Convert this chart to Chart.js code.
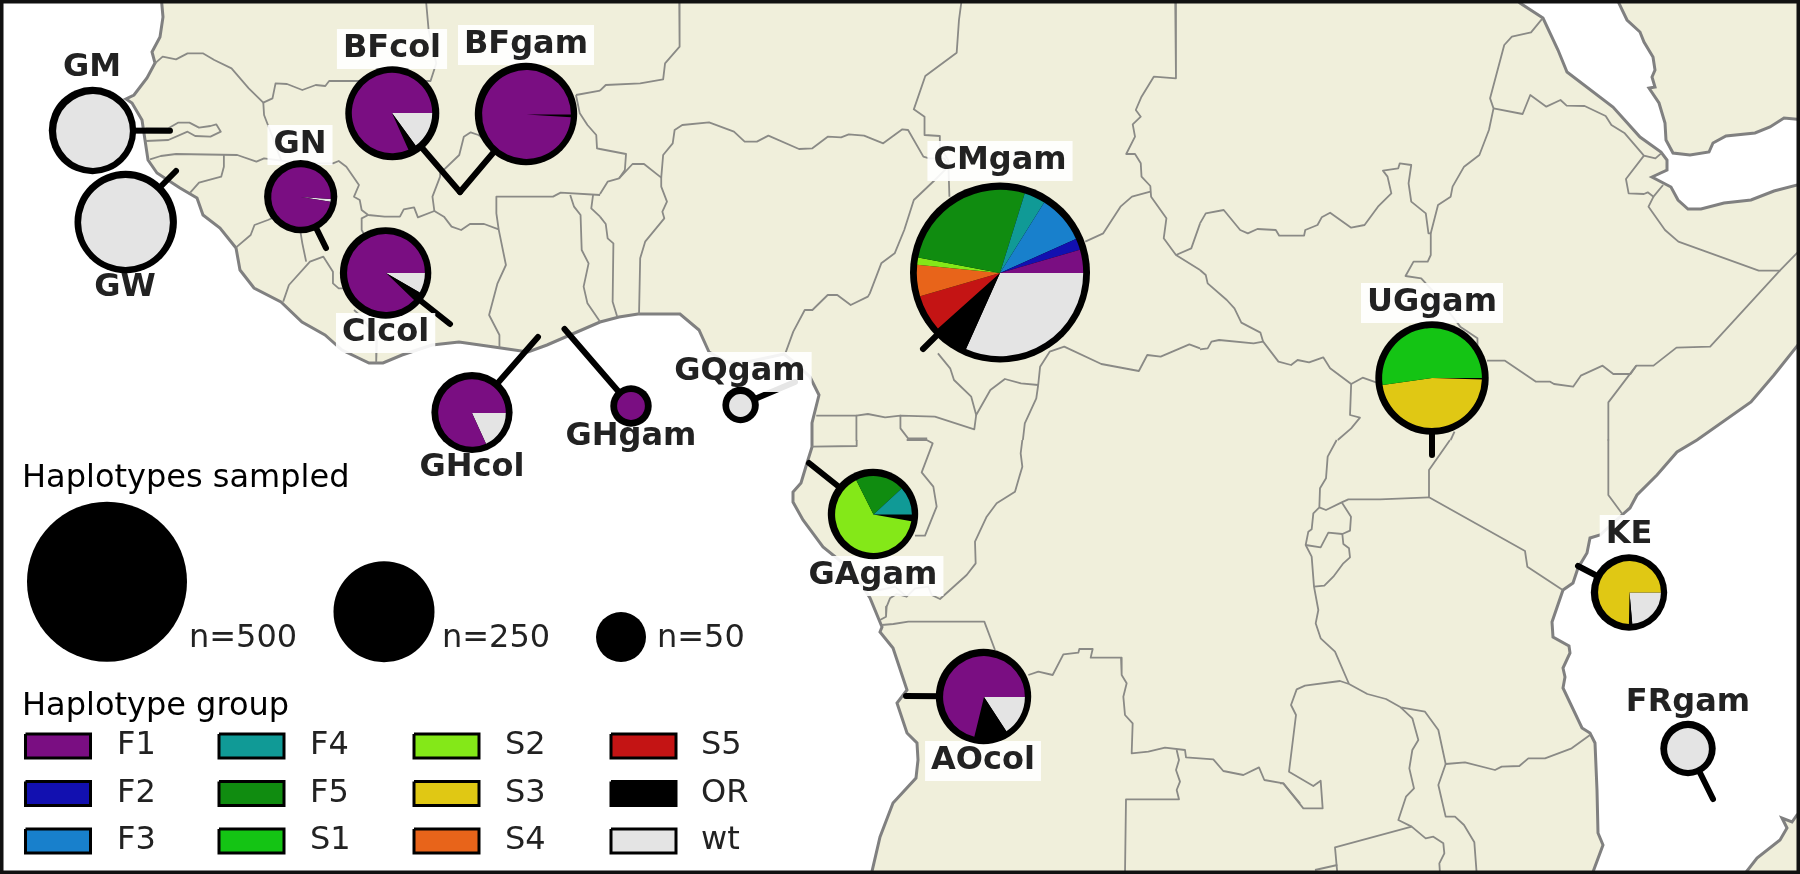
<!DOCTYPE html>
<html>
<head>
<meta charset="utf-8">
<title>Haplotype groups by population</title>
<script src="https://cdn.jsdelivr.net/npm/chart.js@4/dist/chart.umd.min.js"></script>
<style>
  html, body { margin: 0; padding: 0; background: #fff; }
  #stage { position: relative; width: 1800px; height: 874px; overflow: hidden; }
  #stage canvas { position: absolute; left: 0; top: 0; pointer-events: none; }
</style>
</head>
<body>
<div id="stage"><canvas id="map" width="1800" height="874"></canvas></div>
<script>
// haplotype groups, in the order the slices run
const groupNames = ['F1', 'F2', 'F3', 'F4', 'F5', 'S1', 'S2', 'S3', 'S4', 'S5', 'OR', 'wt'];
const groupColors = ['#7a0e82', '#1210b0', '#1880cc', '#109a96', '#108c10', '#14c414',
                     '#84e818', '#e0c814', '#e8641a', '#c41414', '#000000', '#e4e4e4'];

// share of each group per population (%)
const sharesGM    = [0, 0, 0, 0, 0, 0, 0, 0, 0, 0, 0, 100];
const sharesGW    = [0, 0, 0, 0, 0, 0, 0, 0, 0, 0, 0, 100];
const sharesGN    = [98.6, 0, 0, 0, 0, 0, 0, 0, 0, 0, 0, 1.4];
const sharesBFcol = [81.7, 0, 0, 0, 0, 0, 0, 0, 0, 0, 3.3, 15];
const sharesBFgam = [99, 0, 0, 0, 0, 0, 0, 0, 0, 0, 1, 0];
const sharesCIcol = [87.8, 0, 0, 0, 0, 0, 0, 0, 0, 0, 3.9, 8.3];
const sharesGHcol = [81.8, 0, 0, 0, 0, 0, 0, 0, 0, 0, 0, 18.2];
const sharesGHgam = [100, 0, 0, 0, 0, 0, 0, 0, 0, 0, 0, 0];
const sharesGQgam = [0, 0, 0, 0, 0, 0, 0, 0, 0, 0, 0, 100];
const sharesCMgam = [4.5, 2.2, 9.4, 4.1, 26.8, 0, 1.4, 0, 6.1, 7.1, 6.7, 31.7];
const sharesUGgam = [0, 0, 0, 0, 0, 52.2, 0, 47.3, 0, 0, 0.5, 0];
const sharesGAgam = [0, 0, 0, 11.9, 20.5, 0, 64.8, 0, 0, 0, 2.8, 0];
const sharesAOcol = [71.2, 0, 0, 0, 0, 0, 0, 0, 0, 0, 13, 15.8];
const sharesKE    = [0, 0, 0, 0, 0, 0, 0, 74.7, 0, 0, 1.7, 23.6];
const sharesFRgam = [0, 0, 0, 0, 0, 0, 0, 0, 0, 0, 0, 100];

const siteNames  = ['GM', 'GW', 'GN', 'BFcol', 'BFgam', 'CIcol', 'GHcol', 'GHgam', 'GQgam', 'CMgam', 'UGgam', 'GAgam', 'AOcol', 'KE', 'FRgam'];
const siteShares = [sharesGM, sharesGW, sharesGN, sharesBFcol, sharesBFgam, sharesCIcol, sharesGHcol, sharesGHgam, sharesGQgam, sharesCMgam, sharesUGgam, sharesGAgam, sharesAOcol, sharesKE, sharesFRgam];
const siteX      = [92.5, 125.7, 300.7, 392.3, 526, 385.6, 472, 631, 740.6, 1000, 1432, 873, 983.5, 1629, 1688];
const siteY      = [130.5, 222, 196.7, 113.3, 114, 273, 412.5, 406, 405, 272.5, 378, 514, 696.5, 592.5, 748.5];
const siteRadius = [43.7, 51.2, 36.6, 47, 51.2, 45.7, 40.6, 20.7, 18.2, 90, 56.7, 45.2, 47.7, 38.2, 27.7];
// GN's thin wt slice sits a few degrees below 3 o'clock
const siteTurn   = [0, 0, 4, 0, 0, 0, 0, 0, 0, 0, 0, 0, 0, 0, 0];
const labelX     = [92, 125, 300, 392, 526, 385.6, 472, 631, 740, 1000, 1432, 873, 983, 1629, 1688];
const labelY     = [67.5, 288, 145, 49, 45, 333, 468, 437, 372, 161, 303, 576, 761, 535, 703];

// where each site's leader ends on the map
const leaderEndX = [170, 176, 326, 460, 460, 450, 538, 564.5, 795, 923, 1432, 809, 906, 1578, 1713];
const leaderEndY = [130.7, 171, 248, 192, 192, 324, 337, 329, 382, 349, 455, 463, 696, 566, 799];

// size key
const sizeKeyLabels = ['n=500', 'n=250', 'n=50'];
const sizeKeyX      = [107, 384, 621];
const sizeKeyY      = [581.7, 611.7, 637];
const sizeKeyRadius = [80, 50.5, 25];
const sizeKeyTextX  = [189, 442, 657];

// coast outlines, full size pixels
const africaCoast = [[161,-5],[163,17],[160,37],[152,52],[155,63],[147,78],[134,95],[126,99],[132,103],[142,120],[145,140],[148,160],[157,173],[180,188],[197,198],[203,215],[220,228],[236,248],[240,270],[254,288],[281,302],[302,322],[325,335],[342,350],[369,363],[383,363],[402,355],[432,345],[459,342],[494,347],[528,352],[547,345],[600,322],[619,317],[638,314],[680,314],[699,330],[709,352],[726,362],[747,362],[784,354],[795,363],[810,377],[819,395],[812,423],[812,447],[807,463],[801,483],[793,492],[793,502],[803,520],[823,547],[843,563],[863,587],[870,598],[882,627],[880,632],[893,648],[907,690],[897,703],[907,733],[917,743],[918,760],[916,778],[893,803],[880,837],[870,880],[1590,880],[1603,845],[1598,833],[1597,790],[1595,743],[1590,733],[1582,728],[1563,688],[1565,677],[1563,668],[1570,653],[1569,646],[1553,637],[1552,622],[1563,590],[1573,583],[1578,568],[1587,553],[1590,538],[1600,535],[1622,515],[1630,508],[1637,495],[1657,475],[1677,452],[1697,440],[1751,402],[1774,375],[1805,336],[1805,183],[1774,191],[1751,200],[1724,203],[1701,209],[1688,209],[1678,200],[1671,187],[1652,177],[1667,170],[1667,160],[1661,152],[1640,137],[1613,107],[1567,72],[1558,50],[1543,18],[1520,3],[1512,-5]];
const arabiaCoast = [[1615,-5],[1627,20],[1640,32],[1644,42],[1653,57],[1655,70],[1652,77],[1655,87],[1649,88],[1659,103],[1665,123],[1666,140],[1673,153],[1690,155],[1709,152],[1713,143],[1726,136],[1755,133],[1770,127],[1784,118],[1805,120],[1805,-5]];
const madagascarCoast = [[1740,880],[1757,858],[1780,840],[1787,828],[1782,818],[1792,822],[1797,815],[1805,808],[1805,880]];

// inland borders, in the pixel grid of the crop they were traced on
const bordersWest = [
  [[405,190],[425,170],[460,178],[490,160],[530,160],[560,180],[605,205],[650,265],[688,308],[712,295],[720,250],[750,252],[790,270],[825,255],[850,258],[860,243],[1125,243],[1140,190],[1120,90],[1113,0]],
  [[688,308],[690,345],[705,390],[735,482]],
  [[380,385],[440,385],[465,368],[495,368],[520,383],[550,378],[565,373],[577,395],[550,410],[510,408],[490,395],[440,420],[380,423]],
  [[392,478],[420,468],[460,462],[620,465],[670,485],[690,475],[735,482],[800,490],[870,490],[885,483],[905,500],[938,555],[925,590],[940,600],[945,630],[962,645],[1005,650],[1045,650],[1055,628],[1082,622],[1092,652],[1135,633],[1160,650],[1180,680],[1205,690],[1228,672],[1265,672],[1303,688]],
  [[585,465],[585,500],[578,530],[520,548],[497,578]],
  [[962,645],[945,655],[945,690],[960,720]],
  [[1135,633],[1130,590],[1150,530],[1150,520],[1200,465],[1212,410],[1230,397],[1250,405],[1270,420]],
  [[1568,585],[1465,578],[1445,590],[1297,590],[1297,640],[1303,688],[1322,795],[1300,850],[1278,945],[1305,1005],[1305,1040]],
  [[1490,585],[1500,620],[1517,645],[1520,750],[1538,790],[1525,860],[1535,910],[1568,965]],
  [[1550,582],[1545,625],[1568,650]],
  [[617,742],[655,705],[665,675],[700,660],[720,650]],
  [[740,905],[755,855],[810,785],[845,770],[870,815],[870,850],[885,865],[900,865]],
  [[800,785],[790,730],[785,695]],
  [[925,930],[945,950],[985,1020],[983,1085]],
  [[1505,285],[1568,272]],
  [[1505,285],[1515,340],[1535,375],[1558,405],[1560,445],[1568,447]]
];
const bordersCentre = [
  [[207,0],[208,140],[170,190],[165,238],[105,250],[15,255],[0,272]],
  [[0,447],[68,462],[65,510],[50,535],[20,545],[0,582]],
  [[50,535],[85,492],[115,492],[160,533],[165,465],[190,430],[195,390],[215,375],[285,367],[350,395],[378,425],[410,425],[440,407],[520,447],[555,445],[595,410],[630,412],[650,403],[690,407],[740,430],[790,388],[805,390],[845,470],[860,475]],
  [[945,0],[938,60],[932,158],[850,228],[820,328],[848,350],[848,405],[888,408],[888,440],[910,480],[913,590]],
  [[860,475],[900,475],[910,500],[875,540],[820,600],[795,690],[770,760],[735,790],[705,880],[700,890],[655,915],[620,885],[595,885],[555,930],[535,930],[505,995],[485,1058]],
  [[160,533],[160,560],[175,605],[163,635],[168,655],[118,725],[105,775],[102,943]],
  [[0,650],[15,672],[20,715],[35,730],[33,905],[45,950]],
  [[565,1247],[670,1247],[700,1242],[745,1252],[785,1247],[875,1250],[978,1288],[983,1245]],
  [[670,1247],[670,1320]],
  [[785,1247],[785,1285],[805,1315],[855,1315]],
  [[883,1060],[915,1105],[925,1140],[970,1190],[983,1245],[1020,1170],[1058,1137],[1100,1150],[1145,1155],[1150,1100],[1175,1055],[1213,1040],[1310,1092],[1408,1113],[1430,1065],[1465,1070],[1540,1033],[1568,1045]],
  [[1145,1155],[1140,1195],[1110,1270],[1105,1320]],
  [[1268,725],[1315,700],[1360,620],[1390,590],[1438,575]],
  [[1503,0],[1505,235],[1447,230],[1415,290],[1400,330],[1413,350],[1392,373],[1398,410],[1375,462],[1398,462],[1413,490],[1415,530],[1438,558],[1440,590],[1480,655],[1473,715],[1505,765],[1568,810]],
  [[1505,765],[1545,745],[1568,670]]
];
const bordersEast = [
  [[0,1048],[20,1045],[30,1025],[50,1020],[140,1030],[165,1025],[205,1085],[238,1095],[255,1080],[285,1087],[322,1072],[340,1105],[395,1152],[425,1133],[460,1147]],
  [[395,1152],[392,1245],[418,1253],[395,1285],[360,1320]],
  [[0,810],[15,825],[20,850],[70,900],[90,925],[108,968],[158,998],[165,1025]],
  [[0,670],[15,640],[62,630],[105,690],[125,700],[150,687],[198,690],[207,707],[272,707],[275,690],[307,675],[318,652],[340,638],[395,683],[430,675],[465,620],[500,580],[490,530],[478,512],[518,505],[522,490],[552,495],[545,550],[552,605],[590,640],[597,700],[603,700],[603,765],[595,785],[558,785],[537,828],[578,835],[610,875],[680,980],[725,1015],[725,1060]],
  [[603,700],[622,615],[655,590],[660,560],[690,500],[730,465],[755,390],[767,325],[758,295],[795,135],[815,110],[865,97],[895,55]],
  [[767,325],[843,342],[863,285],[905,320],[942,300],[958,317],[1005,318],[1060,348],[1075,375],[1110,400],[1160,467],[1190,475],[1205,460]],
  [[1160,467],[1113,537],[1120,580],[1160,582],[1170,577],[1185,590],[1210,555]],
  [[1185,590],[1172,620],[1215,690],[1250,725],[1460,812],[1515,812],[1568,750]],
  [[1515,812],[1333,1040],[1245,1043],[1185,1097],[1140,1097],[1125,1122],[1080,1122],[1052,1097],[995,1127],[975,1160],[925,1152],[915,1145],[878,1145],[797,1082],[750,1082]],
  [[1140,1097],[1067,1207],[1067,1320]],
  [[665,1295],[655,1320]]
];
const bordersSouthCentre = [
  [[95,20],[230,18],[230,0]],
  [[380,0],[440,0],[458,10],[425,97],[460,140],[470,200],[435,287],[405,287]],
  [[250,445],[300,450],[345,440],[380,470],[405,445],[445,440],[455,465],[480,477],[510,450],[560,405],[587,370],[585,305],[620,230],[650,190],[705,155],[718,110],[727,80],[722,40],[727,0]],
  [[380,470],[350,462],[330,475],[320,500],[318,530],[300,540]],
  [[305,555],[340,552],[385,545],[520,545],[613,545],[645,630]],
  [[745,705],[775,695],[818,705],[850,643],[895,638],[898,627],[938,627],[932,653],[1023,653],[1025,705],[1040,730],[1030,770],[1035,825],[1058,850],[1055,940],[1105,935],[1155,923],[1215,930],[1218,952],[1300,958],[1330,993],[1390,1005],[1437,982],[1453,1020],[1510,1030],[1560,1090]],
  [[1190,930],[1197,960],[1188,990],[1200,1025],[1190,1050],[1197,1078],[1038,1078],[1035,1300]]
];
const bordersSouthEast = [
  [[985,0],[985,165],[1027,222]],
  [[510,0],[447,90],[447,172],[735,333],[742,380],[848,450]],
  [[447,172],[300,178],[205,178],[185,187],[138,210],[118,202]],
  [[170,0],[143,50],[138,115],[120,145],[118,202],[100,220],[95,268],[85,275],[77,315],[122,322],[145,278],[187,282],[210,272],[213,230],[185,187]],
  [[77,315],[95,350],[102,440],[115,510],[107,550],[122,595],[165,635],[207,732]],
  [[102,440],[133,437],[160,410],[190,370],[210,352],[207,325],[190,312],[187,282]],
  [[207,732],[180,723],[75,737],[50,748],[33,795],[48,825],[27,995],[100,1038],[122,1022],[128,1105],[70,1105],[10,1030],[0,1030]],
  [[207,732],[262,762],[318,777],[362,802],[435,815],[475,870],[497,972],[555,967],[645,990],[665,980],[718,978],[745,955],[795,955],[875,925],[930,885]],
  [[497,972],[475,1035],[497,1130],[525,1130],[552,1155],[583,1207],[590,1300]],
  [[362,802],[397,835],[415,900],[397,930],[388,985],[402,1045],[378,1070],[355,1140],[395,1160],[437,1195],[460,1190],[490,1210],[493,1240],[478,1270],[480,1300]],
  [[395,1160],[165,1222],[172,1300]],
  [[172,1275],[105,1290]]
];

const LAND = '#f0efdb';
const COAST = '#808080';
const BORDER = '#8a8a86';
const RING = 6.8;
const FONT = '"DejaVu Sans"';

const toPoints = (line) => line.map(p => ({ x: p[0], y: p[1] }));
const cropped = (lines, left, top, sx) => lines.map(line => line.map(p => [left + p[0] / sx, top + p[1] / 3]));

const allBorders = [
  ...cropped(bordersWest, 0, 0, 2.613),
  ...cropped(bordersCentre, 600, 0, 2.613),
  ...cropped(bordersEast, 1200, 0, 2.613),
  ...cropped(bordersSouthCentre, 780, 440, 3),
  ...cropped(bordersSouthEast, 1280, 440, 3)
];

function lineLayer(line, extra) {
  return Object.assign({
    type: 'scatter', showLine: true, tension: 0, pointRadius: 0,
    fill: false, data: toPoints(line)
  }, extra);
}

// legend swatches sit in a 4 x 3 grid, filled top to bottom
function swatchShape(i) {
  const col = Math.floor(i / 3), row = i % 3;
  const x = [25.5, 219, 414, 611][col], y = [734, 781.5, 829][row];
  return [[x, y], [x + 65, y], [x + 65, y + 24], [x, y + 24], [x, y]];
}

// bottom to top; the list is flipped below because Chart.js paints the first dataset last
const layers = [];
[africaCoast, arabiaCoast, madagascarCoast].forEach(c => {
  layers.push(lineLayer(c.concat([c[0]]), { fill: 'shape', backgroundColor: LAND, borderColor: COAST, borderWidth: 3 }));
});
allBorders.forEach(b => {
  layers.push(lineLayer(b, { borderColor: BORDER, borderWidth: 1.8, borderJoinStyle: 'round' }));
});
siteNames.forEach((name, i) => {
  layers.push(lineLayer([[siteX[i], siteY[i]], [leaderEndX[i], leaderEndY[i]]],
    { borderColor: '#000', borderWidth: 6, borderCapStyle: 'round' }));
});

const labelPlugin = {
  id: 'labels',
  // site names go over the leaders but under the discs
  beforeDatasetDraw(chart, args) {
    if (!chart.data.datasets[args.index].isDiscs) return;
    const { ctx, scales } = chart;
    const px = v => scales.x.getPixelForValue(v);
    const py = v => scales.y.getPixelForValue(v);
    ctx.save();
    ctx.textBaseline = 'middle';
    ctx.textAlign = 'left';
    ctx.font = 'bold 32px ' + FONT;
    siteNames.forEach((name, i) => {
      const w = ctx.measureText(name).width;
      ctx.fillStyle = 'rgba(255,255,255,0.9)';
      ctx.fillRect(px(labelX[i]) - w / 2 - 6, py(labelY[i]) - 20, w + 12, 40);
      ctx.fillStyle = '#222222';
      ctx.fillText(name, px(labelX[i]) - w / 2, py(labelY[i]));
    });
    ctx.restore();
  },
  afterDatasetsDraw(chart) {
    const { ctx, scales } = chart;
    const px = v => scales.x.getPixelForValue(v);
    const py = v => scales.y.getPixelForValue(v);
    ctx.save();
    ctx.textBaseline = 'middle';
    ctx.textAlign = 'left';
    ctx.font = '32px ' + FONT;
    ctx.fillStyle = '#000';
    ctx.fillText('Haplotypes sampled', px(22), py(479));
    ctx.fillText('Haplotype group', px(22), py(707));
    ctx.fillStyle = '#222222';
    sizeKeyLabels.forEach((t, i) => ctx.fillText(t, px(sizeKeyTextX[i]), py(639)));
    groupNames.forEach((g, i) => {
      const col = Math.floor(i / 3), row = i % 3;
      ctx.fillText(g, px([117, 310, 505, 701][col]), py([746, 793.5, 841][row]));
    });
    ctx.restore();
  }
};

const topLayers = [
  // black discs: site rings and the size key
  {
    type: 'scatter', isDiscs: true, pointStyle: 'circle', pointBorderWidth: 0, pointBackgroundColor: '#000',
    pointRadius: siteRadius.concat(sizeKeyRadius), pointHoverRadius: siteRadius.concat(sizeKeyRadius),
    data: siteX.concat(sizeKeyX).map((x, i) => ({ x: x, y: siteY.concat(sizeKeyY)[i] }))
  }
];
groupNames.forEach((g, i) => {
  topLayers.push(lineLayer(swatchShape(i), { fill: 'shape', backgroundColor: groupColors[i], borderColor: '#000', borderWidth: 3 }));
});
// picture frame
topLayers.push(lineLayer([[0, 0], [1800, 0], [1800, 874], [0, 874], [0, 0]], { borderColor: '#111', borderWidth: 7 }));

const mapChart = new Chart(document.getElementById('map'), {
  type: 'scatter',
  data: { datasets: layers.concat(topLayers).reverse() },
  options: {
    responsive: false,
    animation: false,
    events: [],
    // big discs would otherwise push the chart area in from the canvas edge
    layout: { padding: 0, autoPadding: false },
    plugins: { legend: { display: false }, tooltip: { enabled: false } },
    scales: {
      x: { type: 'linear', min: 0, max: 1800, display: false },
      y: { type: 'linear', min: 0, max: 874, reverse: true, display: false }
    }
  },
  plugins: [labelPlugin]
});

// one pie per site on top of its black disc. Chart.js only runs clockwise and the
// slices here run anticlockwise from 3 o'clock, so feed them back to front
siteNames.forEach((name, i) => {
  const R = siteRadius[i];
  const canvas = document.createElement('canvas');
  canvas.width = Math.ceil(R * 2);
  canvas.height = Math.ceil(R * 2);
  canvas.style.left = (mapChart.scales.x.getPixelForValue(siteX[i]) - canvas.width / 2) + 'px';
  canvas.style.top = (mapChart.scales.y.getPixelForValue(siteY[i]) - canvas.height / 2) + 'px';
  document.getElementById('stage').appendChild(canvas);
  new Chart(canvas, {
    type: 'pie',
    data: {
      labels: groupNames.slice().reverse(),
      datasets: [{
        data: siteShares[i].slice().reverse(),
        backgroundColor: groupColors.slice().reverse(),
        borderWidth: 0
      }]
    },
    options: {
      responsive: false,
      animation: false,
      events: [],
      rotation: 90 + siteTurn[i],
      radius: R - RING,
      layout: { padding: 0 },
      plugins: { legend: { display: false }, tooltip: { enabled: false } }
    }
  });
});
</script>
</body>
</html>
